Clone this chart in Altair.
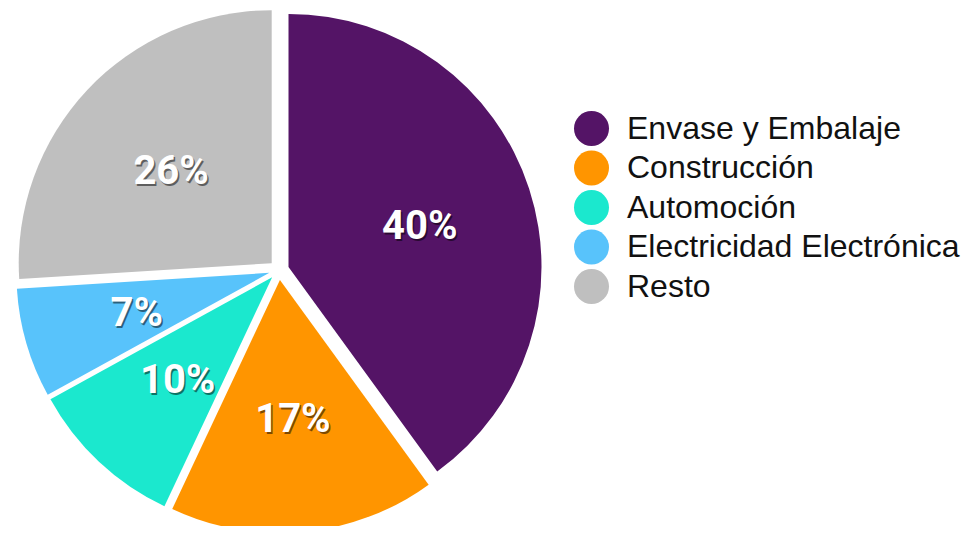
import altair as alt
import pandas as pd

categories = ["Envase y Embalaje", "Construcción", "Automoción", "Electricidad Electrónica", "Resto"]
values = [40, 17, 10, 7, 26]
colors = ["#541466", "#FF9500", "#1BE8CE", "#58C3FB", "#BFBFBF"]

df = pd.DataFrame({"cat": categories, "val": values, "order": list(range(len(values)))})

CX, CY, R, EXPLODE, LABEL_R = 271, 262, 253, 10, 138

base = alt.Chart(df).transform_window(
    cum="sum(val)", sort=[alt.SortField("order")], frame=[None, 0]
).transform_joinaggregate(
    total="sum(val)"
).transform_calculate(
    start="(datum.cum - datum.val) / datum.total * 2 * PI",
    end="datum.cum / datum.total * 2 * PI",
).transform_calculate(
    mid="(datum.start + datum.end) / 2",
).transform_calculate(
    ax=f"{CX} + {EXPLODE} * sin(datum.mid)",
    ay=f"{CY} - {EXPLODE} * cos(datum.mid)",
    lx=f"{CX} + {EXPLODE + LABEL_R} * sin(datum.mid)",
    ly=f"{CY} - {EXPLODE + LABEL_R} * cos(datum.mid)",
    label="datum.val + '%'",
)

arcs = base.mark_arc(outerRadius=R).encode(
    theta=alt.Theta("start:Q", scale=None),
    theta2="end:Q",
    x=alt.X("ax:Q", scale=None, axis=None),
    y=alt.Y("ay:Q", scale=None, axis=None),
    color=alt.Color(
        "cat:N",
        scale=alt.Scale(domain=categories, range=colors),
        legend=alt.Legend(
            title=None,
            orient="none",
            legendX=566,
            legendY=103,
            symbolType="circle",
            symbolSize=1225,
            symbolStrokeWidth=0,
            labelFont="Liberation Sans",
            labelFontSize=32,
            labelColor="#111111",
            labelOffset=18,
            labelLimit=0,
            rowPadding=4.5,
            padding=0,
        ),
    ),
)

shadow = base.mark_text(
    font="Roboto", fontWeight="bold", fontSize=40, color="#000000", opacity=0.5,
    align="center", baseline="middle", dx=1.5, dy=5,
).encode(
    x=alt.X("lx:Q", scale=None, axis=None),
    y=alt.Y("ly:Q", scale=None, axis=None),
    text="label:N",
)

labels = base.mark_text(
    font="Roboto", fontWeight="bold", fontSize=40, color="#FFFFFF",
    align="center", baseline="middle", dy=3,
).encode(
    x=alt.X("lx:Q", scale=None, axis=None),
    y=alt.Y("ly:Q", scale=None, axis=None),
    text="label:N",
)

chart = alt.layer(arcs, shadow, labels).properties(
    width=957, height=518, padding=0,
    autosize=alt.AutoSizeParams(type="none"),
    background="#FFFFFF",
).configure_view(stroke=None)

chart.save("out.html", embed_options={"renderer": "svg", "actions": False})
